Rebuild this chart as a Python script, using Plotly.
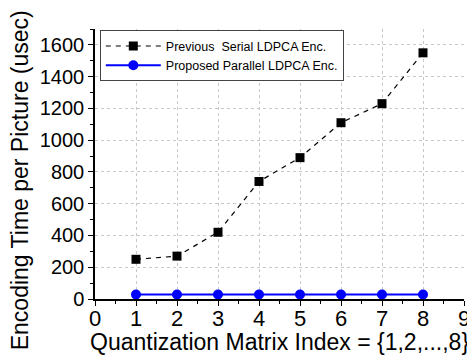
import plotly.graph_objects as go

x_idx = [1, 2, 3, 4, 5, 6, 7, 8]
serial = [250, 270, 420, 740, 890, 1110, 1230, 1550]
parallel = [28, 28, 28, 28, 28, 28, 28, 28]
x_ticks = [0, 1, 2, 3, 4, 5, 6, 7, 8, 9]
y_ticks = [0, 200, 400, 600, 800, 1000, 1200, 1400, 1600]
x_title = "Quantization Matrix Index = {1,2,...,8}"
y_title = "Encoding Time per Picture (usec)"

fig = go.Figure()
fig.add_trace(go.Scatter(
    x=x_idx, y=serial, mode="lines+markers",
    name="Previous  Serial LDPCA Enc.",
    line=dict(color="black", width=1.2, dash="5px,5px"),
    marker=dict(symbol="square", size=9, color="black"),
))
fig.add_trace(go.Scatter(
    x=x_idx, y=parallel, mode="lines+markers",
    name="Proposed Parallel LDPCA Enc.",
    line=dict(color="blue", width=2),
    marker=dict(symbol="circle", size=10, color="blue"),
))

FONT = "Liberation Sans, Arial"
axis_common = dict(
    showline=True, linecolor="black", linewidth=1.5, automargin=False,
    showgrid=True, gridcolor="#c8c8c8", griddash="dot", gridwidth=1,
    zeroline=False, ticks="outside", ticklen=5, tickwidth=1, tickcolor="black",
)

fig.update_layout(
    width=467, height=360,
    margin=dict(l=95, r=3, t=29, b=61, autoexpand=False),
    paper_bgcolor="white", plot_bgcolor="white",
    font=dict(family=FONT, color="black"),
    xaxis=dict(range=[0, 9], tickvals=x_ticks, **axis_common,
               tickfont=dict(size=22), ticklabelstandoff=-6, ticklabeloverflow="allow",
               minor=dict(ticks="outside", ticklen=3, dtick=0.5, showgrid=False, tickcolor="black")),
    yaxis=dict(range=[0, 1700], tickvals=y_ticks, **axis_common,
               tickfont=dict(size=20),
               minor=dict(ticks="outside", ticklen=3, dtick=100, showgrid=False, tickcolor="black")),
    xaxis2=dict(range=[0, 9], overlaying="x", side="top", anchor="y", automargin=False,
                showline=True, linecolor="black", linewidth=1.5,
                showgrid=False, zeroline=False, showticklabels=False,
                tickvals=x_ticks, ticks="inside", ticklen=4, tickcolor="black",
                minor=dict(ticks="inside", ticklen=2, dtick=0.5, tickcolor="black")),
    yaxis2=dict(range=[0, 1700], overlaying="y", side="right", anchor="x", automargin=False,
                showline=True, linecolor="black", linewidth=1.5,
                showgrid=False, zeroline=False, showticklabels=False,
                tickvals=y_ticks, ticks="inside", ticklen=4, tickcolor="black",
                minor=dict(ticks="inside", ticklen=2, dtick=100, tickcolor="black")),
    legend=dict(x=0.013, y=0.995, xanchor="left", yanchor="top",
                bgcolor="white", bordercolor="#444", borderwidth=1,
                font=dict(size=12.5),
                itemwidth=55, tracegroupgap=0),
    showlegend=True,
    annotations=[
        dict(text=x_title, xref="paper", yref="paper", x=0.5, y=-0.16,
             xanchor="center", yanchor="middle", showarrow=False,
             font=dict(size=23)),
        dict(text=y_title, xref="paper", yref="paper", x=-0.203, y=0.44,
             xanchor="center", yanchor="middle", showarrow=False, textangle=-90,
             font=dict(size=23)),
    ],
)

fig.write_html("out.html")
